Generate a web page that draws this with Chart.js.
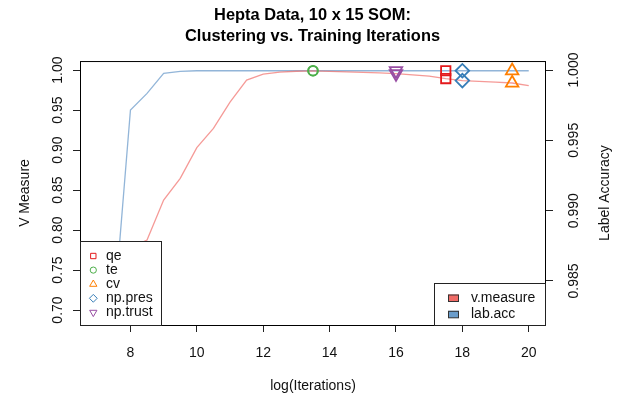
<!DOCTYPE html>
<html>
<head>
<meta charset="utf-8">
<script src="https://cdn.jsdelivr.net/npm/chart.js"></script>
<style>
  html, body { margin: 0; padding: 0; background: #fff; }
  canvas { display: block; }
</style>
</head>
<body>
<canvas id="chart" width="625" height="396"></canvas>
<script>
// log(iterations) on the x axis
const iterations = [7, 7.5, 8, 8.5, 9, 9.5, 10, 10.5, 11, 11.5, 12, 12.5, 13, 13.5,
  14, 14.5, 15, 15.5, 16, 16.5, 17, 17.5, 18, 18.5, 19, 19.5, 20]

// left axis series
const vMeasure = [0.6935, 0.720, 0.778, 0.7875, 0.8375, 0.8646, 0.903, 0.927, 0.960, 0.9875,
  0.995, 0.9975, 0.9985, 0.999, 0.9983, 0.9978, 0.9972, 0.9964, 0.9955, 0.9940,
  0.9925, 0.9893, 0.9868, 0.9858, 0.9848, 0.9838, 0.9805]

// right axis series
const labAcc = [0.9826, 0.9827, 0.99716, 0.99834, 0.99977, 0.9999, 0.99995, 0.99995, 0.99995, 0.99995,
  0.99995, 0.99995, 0.99995, 0.99995, 0.99995, 0.99995, 0.99995, 0.99995, 0.99995, 0.99995,
  0.99995, 0.99995, 0.99995, 0.99995, 0.99995, 0.99995, 0.99995]

// iteration chosen by each criterion
const criteria = ['qe', 'te', 'cv', 'np.pres', 'np.trust']
const criteriaIter = [17.5, 13.5, 19.5, 18, 16]

const xTicks = [8, 10, 12, 14, 16, 18, 20]
const vTicks = [0.70, 0.75, 0.80, 0.85, 0.90, 0.95, 1.00]
const accTicks = [0.985, 0.990, 0.995, 1.000]

const FONT = '"Liberation Sans", Arial, Helvetica, sans-serif'
const critStyle = [
  { color: '#E41A1C', shape: 'rect', r: 6.6, rot: 0, lr: 3.8 },
  { color: '#4DAF4A', shape: 'circle', r: 4.8, rot: 0, lr: 3.1 },
  { color: '#FF7F00', shape: 'triangle', r: 7.2, rot: 0, lr: 4.2 },
  { color: '#377EB8', shape: 'rectRot', r: 6.8, rot: 0, lr: 3.9 },
  { color: '#984EA3', shape: 'triangle', r: 7.2, rot: 180, lr: 4.2 }
]
const redLine = 'rgba(240, 100, 95, 0.65)'
const blueLine = 'rgba(100, 150, 200, 0.7)'
const redFill = '#F06B66'
const blueFill = '#6B9DCB'

const markerSets = []
criteria.forEach((name, i) => {
  const idx = iterations.indexOf(criteriaIter[i])
  const s = critStyle[i]
  const common = {
    showLine: false,
    pointStyle: s.shape,
    pointRadius: s.r,
    pointRotation: s.rot,
    pointBorderColor: s.color,
    pointBackgroundColor: 'rgba(0,0,0,0)',
    pointBorderWidth: 1.8,
    order: 0
  }
  markerSets.push({ ...common, label: name, yAxisID: 'y', data: [{ x: criteriaIter[i], y: vMeasure[idx] }] })
  markerSets.push({ ...common, label: name, yAxisID: 'y2', data: [{ x: criteriaIter[i], y: labAcc[idx] }] })
})

// R style box, rotated labels and the two legends
const rDecor = {
  id: 'rDecor',
  afterDraw (chart) {
    const { ctx, chartArea: ca, scales } = chart
    ctx.save()
    ctx.strokeStyle = '#000'
    ctx.lineWidth = 1
    ctx.strokeRect(ca.left + 0.5, ca.top + 0.5, ca.right - ca.left - 1, ca.bottom - ca.top)

    ctx.fillStyle = '#111'
    ctx.font = '14px ' + FONT
    ctx.textAlign = 'center'
    ctx.textBaseline = 'alphabetic'
    scales.x.ticks.forEach(t => ctx.fillText(String(t.value), scales.x.getPixelForValue(t.value), 357))
    ctx.fillText('log(Iterations)', (ca.left + ca.right) / 2, 390)

    const rot = (text, x, y) => {
      ctx.save()
      ctx.translate(x, y)
      ctx.rotate(-Math.PI / 2)
      ctx.fillText(text, 0, 0)
      ctx.restore()
    }
    scales.y.ticks.forEach(t => rot(t.value.toFixed(2), 61.7, scales.y.getPixelForValue(t.value)))
    scales.y2.ticks.forEach(t => rot(t.value.toFixed(3), 578.3, scales.y2.getPixelForValue(t.value)))
    const midY = (ca.top + ca.bottom) / 2
    rot('V Measure', 29, midY)
    rot('Label Accuracy', 609, midY)

    // bottom left legend (criteria)
    ctx.fillStyle = '#fff'
    ctx.fillRect(ca.left, 241, 82, ca.bottom - 241 + 1)
    ctx.strokeStyle = '#222'
    ctx.strokeRect(ca.left + 0.5, 241.5, 81, ca.bottom - 241)
    ctx.textAlign = 'left'
    criteria.forEach((name, i) => {
      const s = critStyle[i]
      const y = 256 + 14.1 * i
      ctx.strokeStyle = s.color
      ctx.fillStyle = 'rgba(0,0,0,0)'
      ctx.lineWidth = 1
      Chart.helpers.drawPoint(ctx, { pointStyle: s.shape, radius: s.lr, rotation: s.rot, borderWidth: 1 }, 93.3, y)
      ctx.fillStyle = '#111'
      ctx.fillText(name, 106, y + 4)
    })

    // bottom right legend (series)
    ctx.fillStyle = '#fff'
    ctx.fillRect(434, 283, ca.right - 434, ca.bottom - 283 + 1)
    ctx.strokeStyle = '#222'
    ctx.strokeRect(434.5, 283.5, ca.right - 435, ca.bottom - 283)
    const series = [['v.measure', redFill, 298], ['lab.acc', blueFill, 314.3]]
    series.forEach(([name, fill, y]) => {
      ctx.fillStyle = fill
      ctx.fillRect(448, y - 3.5, 11, 7)
      ctx.strokeStyle = '#333'
      ctx.strokeRect(448.5, y - 3, 10, 6.5)
      ctx.fillStyle = '#111'
      ctx.fillText(name, 471, y + 4)
    })
    ctx.restore()
  }
}

const tickGrid = { drawOnChartArea: false, drawTicks: true, tickLength: 7, color: '#222', lineWidth: 1 }

new Chart(document.getElementById('chart'), {
  type: 'scatter',
  data: {
    datasets: [
      ...markerSets,
      {
        label: 'v.measure',
        yAxisID: 'y',
        data: iterations.map((x, i) => ({ x, y: vMeasure[i] })),
        showLine: true,
        borderColor: redLine,
        borderWidth: 1.3,
        pointRadius: 0,
        tension: 0,
        order: 1
      },
      {
        label: 'lab.acc',
        yAxisID: 'y2',
        data: iterations.map((x, i) => ({ x, y: labAcc[i] })),
        showLine: true,
        borderColor: blueLine,
        borderWidth: 1.3,
        pointRadius: 0,
        tension: 0,
        order: 1
      }
    ]
  },
  options: {
    responsive: false,
    animation: false,
    devicePixelRatio: 1,
    layout: { padding: 0 },
    plugins: {
      legend: { display: false },
      tooltip: { enabled: false },
      title: {
        display: true,
        text: ['Hepta Data, 10 x 15 SOM:', 'Clustering vs. Training Iterations'],
        color: '#000',
        font: { family: FONT, size: 16.4, weight: 'bold', lineHeight: 1.3 },
        padding: { top: 4.35, bottom: 14.05 }
      }
    },
    scales: {
      x: {
        type: 'linear',
        min: 6.48,
        max: 20.52,
        afterBuildTicks: s => { s.ticks = xTicks.map(v => ({ value: v })) },
        afterFit: s => { s.height = 71 },
        ticks: { display: false },
        grid: tickGrid,
        border: { display: false }
      },
      y: {
        position: 'left',
        min: 0.68125,
        max: 1.01125,
        afterBuildTicks: s => { s.ticks = vTicks.map(v => ({ value: v })) },
        afterFit: s => { s.width = 80 },
        ticks: { display: false },
        grid: tickGrid,
        border: { display: false }
      },
      y2: {
        position: 'right',
        min: 0.98187,
        max: 1.00064,
        afterBuildTicks: s => { s.ticks = accTicks.map(v => ({ value: v })) },
        afterFit: s => { s.width = 79 },
        ticks: { display: false },
        grid: tickGrid,
        border: { display: false }
      }
    }
  },
  plugins: [rDecor]
})
</script>
</body>
</html>
